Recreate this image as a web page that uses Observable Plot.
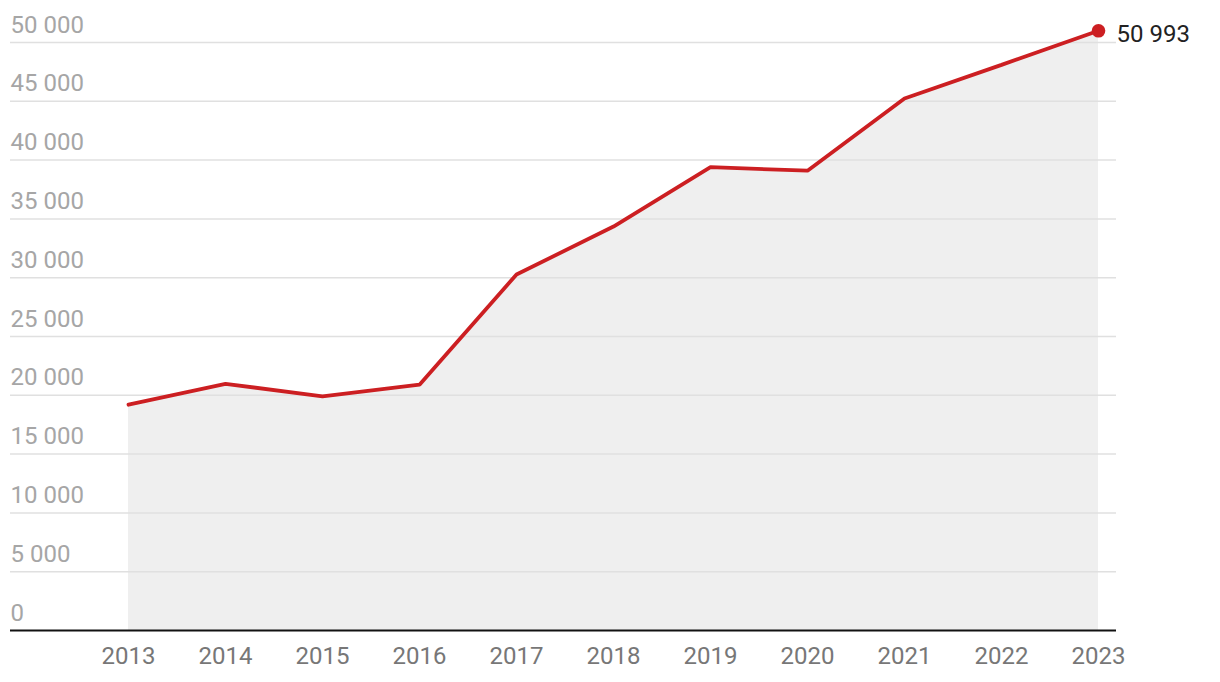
<!DOCTYPE html>
<html>
<head>
<meta charset="utf-8">
<script src="https://cdn.jsdelivr.net/npm/d3@7"></script>
<script src="https://cdn.jsdelivr.net/npm/@observablehq/plot@0.6"></script>
<style>
  html, body { margin: 0; padding: 0; background: #fff; }
  #chart { width: 1220px; height: 682px; }
  svg { font-family: Roboto, "Noto Sans", sans-serif; }
</style>
</head>
<body>
<div id="chart"></div>
<script>
const years = [2013, 2014, 2015, 2016, 2017, 2018, 2019, 2020, 2021, 2022, 2023];
const values = [19200, 20980, 19900, 20900, 30270, 34350, 39400, 39100, 45240, 48100, 50993];
const yTicks = [0, 5000, 10000, 15000, 20000, 25000, 30000, 35000, 40000, 45000, 50000];

const data = years.map((year, i) => ({ year, value: values[i] }));
const last = data[data.length - 1];
const fmt = v => d3.format(",")(v).replace(/,/g, " ");

const chart = Plot.plot({
  width: 1220,
  height: 682,
  marginTop: 42,
  marginBottom: 52,
  marginLeft: 10,
  marginRight: 104,
  style: { fontFamily: "Roboto, sans-serif", background: "#fff" },
  x: { domain: [2013, 2023], insetLeft: 118, insetRight: 18, axis: null },
  y: { domain: [0, 50000], axis: null },
  marks: [
    Plot.areaY(data, { x: "year", y: "value", fill: "#efefef" }),
    Plot.ruleY(yTicks.filter(d => d > 0), { stroke: "#e0e0e0", strokeWidth: 1.5 }),
    Plot.text(yTicks, {
      y: d => d,
      text: d => fmt(d),
      frameAnchor: "left",
      textAnchor: "start",
      lineAnchor: "bottom",
      dy: -10,
      fontSize: 24,
      fill: "#a6a6a6"
    }),
    Plot.line(data, { x: "year", y: "value", stroke: "#cc1f22", strokeWidth: 3.8, strokeLinejoin: "miter" }),
    Plot.dot([last], { x: "year", y: "value", r: 6.8, fill: "#cc1f22" }),
    Plot.text([last], {
      x: "year",
      y: "value",
      text: d => fmt(d.value),
      textAnchor: "start",
      dx: 18,
      dy: 3,
      fontSize: 24,
      fill: "#222"
    }),
    Plot.ruleY([0], { stroke: "#111", strokeWidth: 2 }),
    Plot.axisX(years, {
      tickSize: 0,
      tickPadding: 16,
      tickFormat: d => String(d),
      fontSize: 24,
      fill: "#777",
      label: null
    })
  ]
});
document.getElementById("chart").appendChild(chart);
</script>
</body>
</html>
